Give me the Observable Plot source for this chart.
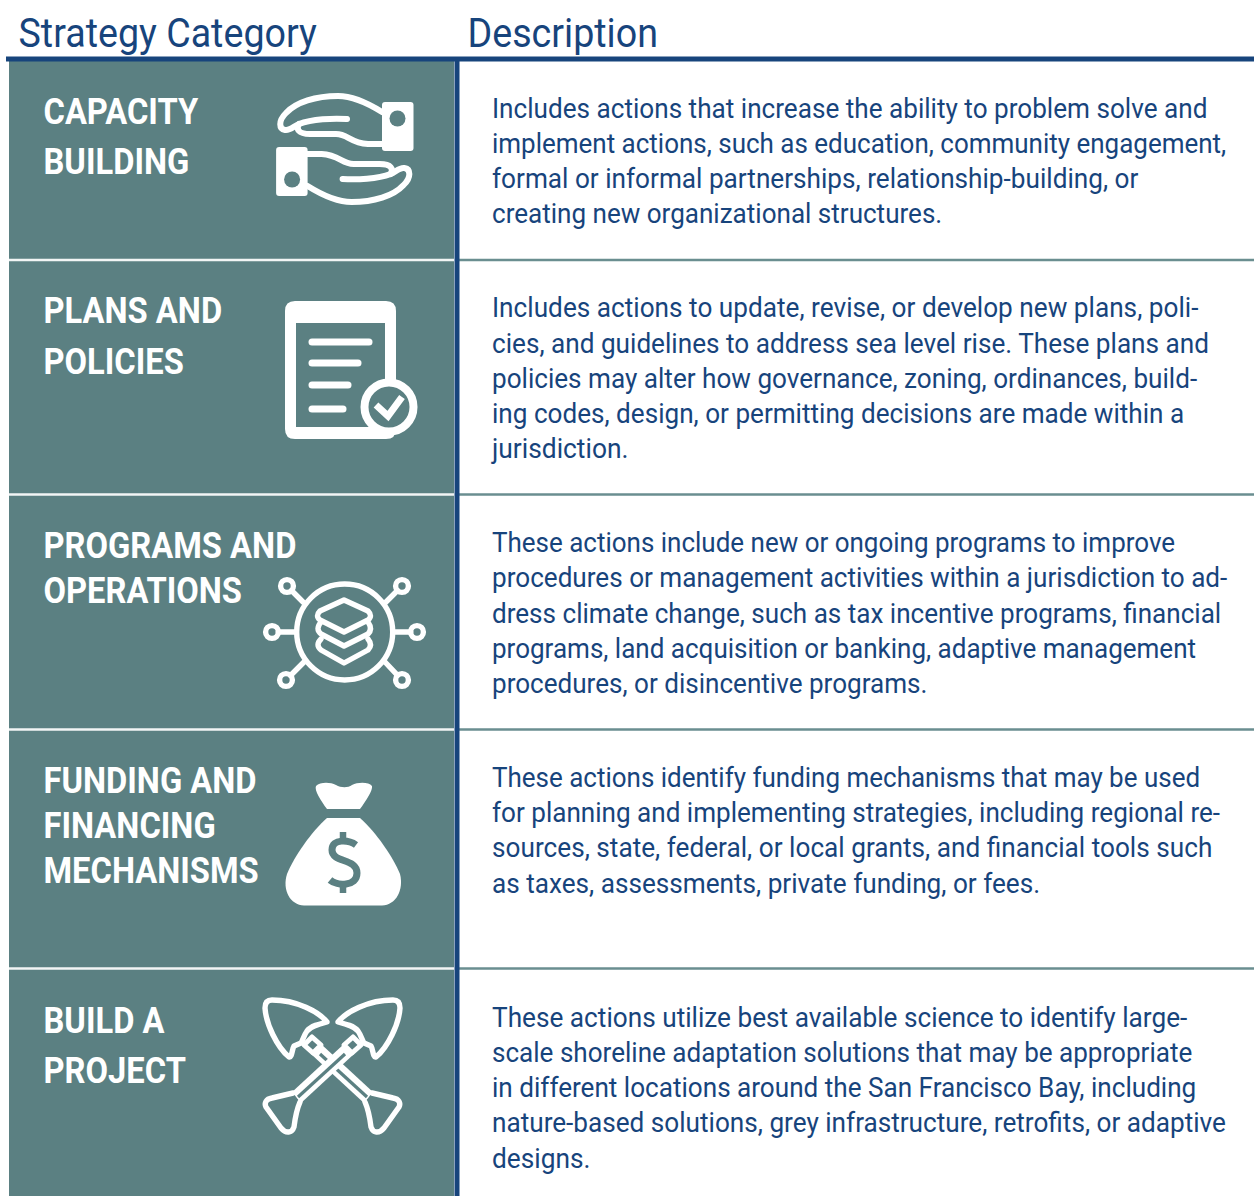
<!DOCTYPE html>
<html>
<head>
<meta charset="utf-8">
<script src="https://cdn.jsdelivr.net/npm/d3@7"></script>
<script src="https://cdn.jsdelivr.net/npm/@observablehq/plot@0.6"></script>
<style>html,body{margin:0;padding:0;background:#fff}svg{display:block}</style>
</head>
<body>
<div id="chart"></div>
<script>
const headers = ["Strategy Category", "Description"];
const categories = [
  ["CAPACITY", "BUILDING"],
  ["PLANS AND", "POLICIES"],
  ["PROGRAMS AND", "OPERATIONS"],
  ["FUNDING AND", "FINANCING", "MECHANISMS"],
  ["BUILD A", "PROJECT"]
];
const descriptions = [
  ["Includes actions that increase the ability to problem solve and",
   "implement actions, such as education, community engagement,",
   "formal or informal partnerships, relationship-building, or",
   "creating new organizational structures."],
  ["Includes actions to update, revise, or develop new plans, poli-",
   "cies, and guidelines to address sea level rise. These plans and",
   "policies may alter how governance, zoning, ordinances, build-",
   "ing codes, design, or permitting decisions are made within a",
   "jurisdiction."],
  ["These actions include new or ongoing programs to improve",
   "procedures or management activities within a jurisdiction to ad-",
   "dress climate change, such as tax incentive programs, financial",
   "programs, land acquisition or banking, adaptive management",
   "procedures, or disincentive programs."],
  ["These actions identify funding mechanisms that may be used",
   "for planning and implementing strategies, including regional re-",
   "sources, state, federal, or local grants, and financial tools such",
   "as taxes, assessments, private funding, or fees."],
  ["These actions utilize best available science to identify large-",
   "scale shoreline adaptation solutions that may be appropriate",
   "in different locations around the San Francisco Bay, including",
   "nature-based solutions, grey infrastructure, retrofits, or adaptive",
   "designs."]
];

// table layout (page pixels)
const W = 1254, H = 1196;
const rowEdges = [61, 259.5, 494, 729, 968, 1196];
const titleBaselines = [[123, 173], [322, 373], [557, 602], [792, 837, 882], [1032, 1082]];
const bodyBaselines = [[117, 152, 187, 222], [316, 352, 387, 422, 457], [551, 586, 622, 657, 692], [786, 821, 856, 892], [1026, 1061, 1096, 1131, 1167]];
const bodyLineEnds = [[1207, 1226, 1138, 942], [1198, 1209, 1197, 1184, 628], [1175, 1227, 1221, 1196, 927], [1200, 1220, 1212, 1040], [1187, 1192, 1196, 1226, 590]];
const BLUE = "#17447c", TEAL = "#5b8082";

const rows = categories.map((c, i) => ({top: rowEdges[i], bottom: rowEdges[i + 1]}));
const titleLines = categories.flatMap((ls, r) => ls.map((t, i) => ({t, y: titleBaselines[r][i]})));
const bodyLines = descriptions.flatMap((ls, r) => ls.map((t, i) => ({t, y: bodyBaselines[r][i], end: bodyLineEnds[r][i]})));
const seps = rowEdges.slice(1, -1);

const iconMark = () => {
  const g = d3.create("svg:g").attr("fill", "none").attr("stroke-linecap", "round").attr("stroke-linejoin", "round");
  const P = (par, d, a = {}) => { const e = par.append("path").attr("d", d); for (const k in a) e.attr(k, a[k]); return e; };
  const C = (par, x, y, r, a = {}) => { const e = par.append("circle").attr("cx", x).attr("cy", y).attr("r", r); for (const k in a) e.attr(k, a[k]); return e; };

  // hands
  const hand = p => {
    p.append("rect").attr("x", 382).attr("y", 102).attr("width", 31.5).attr("height", 49).attr("rx", 3).attr("fill", "#fff");
    C(p, 397.5, 118.5, 8, {fill: TEAL});
    P(p, "M382,112 C366,102 352,96 338,96 C316,96 296,102 286,113 C278,121 279,129 285,130 C290,131 294,126 299,124 C312,119 333,118 347,119", {stroke: "#fff", "stroke-width": 6});
    P(p, "M299,124 C296,129 298,134 310,134 L336,134 C348,134 350,143 368,144 L382,144", {stroke: "#fff", "stroke-width": 6});
  };
  hand(g.append("g"));
  hand(g.append("g").attr("transform", "rotate(180 344.8 149)"));

  // document
  P(g, "M295,301 H386 Q396,301 396,311 V429 Q396,439 386,439 H295 Q285,439 285,429 V311 Q285,301 295,301 Z M296,323 V427 H385 V323 Z", {fill: "#fff", "fill-rule": "evenodd"});
  [[342, 369], [363, 358], [385, 348], [409, 343]].forEach(([y, x2]) => P(g, `M312,${y} H${x2}`, {stroke: "#fff", "stroke-width": 7}));
  C(g, 389, 407, 24.5, {fill: TEAL, stroke: "#fff", "stroke-width": 8});
  P(g, "M376,405 L388,416 L402,397", {stroke: "#fff", "stroke-width": 7, "stroke-linecap": "butt", "stroke-linejoin": "miter"});

  // network
  const net = g.append("g").attr("stroke", "#fff").attr("stroke-width", 5.4);
  C(net, 344.7, 632, 48);
  [[287, 586, 303, 602], [402, 586, 386, 602], [272, 632, 296, 632], [417, 632, 393, 632], [286, 680, 304, 662], [402, 680, 385, 662]].forEach(([x, y, x2, y2]) => {
    C(net, x, y, 6.4);
    const a = Math.atan2(y2 - y, x2 - x);
    P(net, `M${x + 6.4 * Math.cos(a)},${y + 6.4 * Math.sin(a)} L${x2},${y2}`);
  });
  P(net, "M344,600 L368,611 Q373,616 368,620 L344,632 L320,620 Q315,616 320,611 Z");
  P(net, "M321,622 Q315,629 321,634 L344,646 L368,634 Q373,629 368,622");
  P(net, "M321,639 Q315,645 321,650 L344,663 L368,650 Q373,645 368,639");

  // money bag
  P(g, "M316,786 C320,782 330,782 336,785 C341,788 348,788 352,785 C358,782 369,782 372,786 C373,790 366,801 360,809 H327 C321,801 314,790 316,786 Z", {fill: "#fff", "stroke-width": 0});
  P(g, "M327,818 H360 C376,832 393,857 400,874 C404,890 396,905 382,905.5 H304 C290,905 282,890 287,874 C294,857 311,832 327,818 Z", {fill: "#fff"});
  P(g, "M356,845 C349,840 332,838 332,850 C332,863 357,858 357,873 C357,887 337,886 330,880", {stroke: TEAL, "stroke-width": 7, "stroke-linecap": "butt"});
  P(g, "M343,832 V839 M343,885 V893", {stroke: TEAL, "stroke-width": 6.5, "stroke-linecap": "butt"});

  // shovels
  const sh = p => {
    // handle: white band with a thin teal slit
    P(p, "M349,1049 L296,1098", {stroke: "#fff", "stroke-width": 14, "stroke-linecap": "butt"});
    P(p, "M345,1054 L298,1097", {stroke: TEAL, "stroke-width": 3.2, "stroke-linecap": "butt"});
    // blade
    P(p, "M338,1022 C346,1012 368,1000 393,1000 C398,1000 400,1003 400,1008 C399,1024 388,1047 376,1057 C373,1058 373,1049 371,1046 L364,1043 C362,1040 361,1035 358,1031 C354,1026 346,1024 338,1022 Z", {stroke: "#fff", "stroke-width": 5.4, fill: TEAL});
    // socket with window
    P(p, "M353,1037 L361,1045 L352,1053 L344,1045 Z", {stroke: "#fff", "stroke-width": 5, fill: TEAL});
    // grip
    P(p, "M293,1093 L272,1098 C266,1099 264,1103 266,1107 L281,1128 C286,1134 292,1133 294,1127 C295,1119 296,1111 300,1102", {stroke: "#fff", "stroke-width": 5.4, fill: TEAL});
  };
  sh(g.append("g").attr("transform", "translate(665 0) scale(-1 1)"));
  sh(g.append("g"));
  return g.node();
};

// The reference face is a condensed Roboto: narrow each line horizontally about its own origin.
const narrow = (t, k) => {
  const tr = t.getAttribute("transform") || "";
  t.setAttribute("transform", `${tr} scale(${k.toFixed(4)},1)`);
};

const F = "Roboto, sans-serif";
const BODY_X = 491.5;
const plot = Plot.plot({
  width: W, height: H, margin: 0,
  x: {type: "identity", axis: null},
  y: {type: "identity", axis: null},
  style: {background: "#fff"},
  marks: [
    Plot.rect(rows, {x1: 9, x2: 454, y1: "top", y2: "bottom", fill: TEAL}),
    Plot.ruleY(seps, {x1: 9, x2: 454, stroke: "#f2f5f5", strokeWidth: 2.5}),
    Plot.ruleY(seps, {x1: 459, x2: W, stroke: "#6a8e90", strokeWidth: 2.5}),
    Plot.ruleX([456.5], {y1: 58, y2: H, stroke: BLUE, strokeWidth: 5}),
    Plot.ruleY([58.5], {x1: 6, x2: W, stroke: BLUE, strokeWidth: 5}),
    Plot.text([headers[0]], {x: 18, y: 46, text: d => d, textAnchor: "start", lineAnchor: "bottom", fontFamily: F, fontSize: 41, fill: BLUE, className: "hdr"}),
    Plot.text([headers[1]], {x: 467, y: 46, text: d => d, textAnchor: "start", lineAnchor: "bottom", fontFamily: F, fontSize: 41, fill: BLUE, className: "hdr"}),
    Plot.text(titleLines, {x: 43, y: "y", text: "t", textAnchor: "start", lineAnchor: "bottom", fontFamily: F, fontWeight: 700, fontSize: 36.5, fill: "#fff", className: "ttl"}),
    Plot.text(bodyLines, {x: BODY_X, y: "y", text: "t", textAnchor: "start", lineAnchor: "bottom", fontFamily: F, fontSize: 28, fill: BLUE, className: "body"}),
    iconMark
  ]
});
document.getElementById("chart").append(plot);
plot.querySelectorAll(".hdr text").forEach(t => narrow(t, 0.918));
plot.querySelectorAll(".ttl text").forEach(t => narrow(t, 0.896));
plot.querySelectorAll(".body text").forEach((t, i) => narrow(t, (bodyLines[i].end - BODY_X) / t.getComputedTextLength()));
</script>
</body>
</html>
